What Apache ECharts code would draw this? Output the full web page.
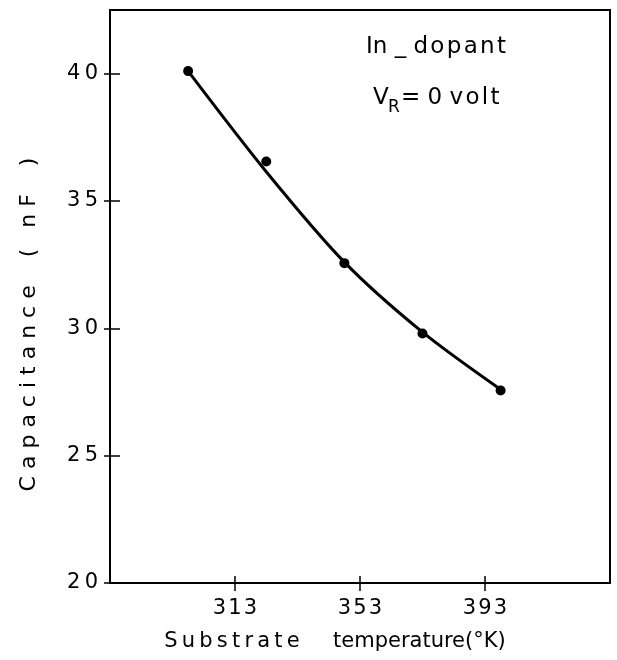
<!DOCTYPE html>
<html>
<head>
<meta charset="utf-8">
<script src="https://cdn.jsdelivr.net/npm/echarts@6/dist/echarts.min.js"></script>
<style>
  html, body { margin: 0; padding: 0; background: #fff; }
  #chart { width: 617px; height: 660px; }
</style>
</head>
<body>
<div id="chart"></div>
<script>
// Measured capacitance vs substrate temperature (In-doped, zero bias)
const temperatures = [298, 323, 348, 373, 398];
const capacitance = [40.1, 36.55, 32.56, 29.8, 27.56];
// Smooth trend curve drawn through the measurements
const curveTemps = [298, 323, 348, 373, 398];
const curveValues = [40.1, 36.15, 32.6, 29.85, 27.6];
const xTicks = [313, 353, 393];
const yTicks = [20, 25, 30, 35, 40];

const FONT = 'DejaVu Sans';
const spaced = (s, sep) => String(s).split('').join(sep || '\u200A');

const chart = echarts.init(document.getElementById('chart'));

const xBase = { type: 'value', min: 273, max: 433, interval: 40, position: 'bottom' };
const yBase = { type: 'value', min: 20, max: 42.5, interval: 5, position: 'left' };

chart.setOption({
  animation: false,
  backgroundColor: '#fff',
  grid: {
    left: 110, right: 7, top: 10, bottom: 77,
    show: true, borderColor: '#000', borderWidth: 2, backgroundColor: 'transparent'
  },
  xAxis: [
    Object.assign({}, xBase, {
      name: spaced('Substrate', '\u2009') + '     temperature(°K)',
      nameLocation: 'middle', nameGap: 48,
      nameTextStyle: { fontFamily: FONT, fontSize: 21, color: '#000', padding: [0, 50, 0, 0] },
      axisLine: { lineStyle: { color: '#000', width: 2 } },
      axisTick: { customValues: xTicks, length: 8, inside: false, lineStyle: { color: '#000', width: 1.5 } },
      axisLabel: { customValues: xTicks, formatter: v => spaced(v), fontFamily: FONT, fontSize: 21, color: '#000', margin: 15 },
      splitLine: { show: false }
    }),
    Object.assign({}, xBase, {
      axisLine: { show: false },
      axisTick: { customValues: xTicks, length: 7, inside: true, lineStyle: { color: '#000', width: 1.5 } },
      axisLabel: { show: false },
      splitLine: { show: false }
    })
  ],
  yAxis: [
    Object.assign({}, yBase, {
      name: spaced('Capacitance', ' ') + '    (   n F    )',
      nameLocation: 'middle', nameGap: 70,
      nameTextStyle: { fontFamily: FONT, fontSize: 22, color: '#000', padding: [0, 56, 0, 0] },
      axisLine: { lineStyle: { color: '#000', width: 2 } },
      axisTick: { customValues: yTicks, length: 6, inside: false, lineStyle: { color: '#000', width: 1.5 } },
      axisLabel: { customValues: yTicks, formatter: v => spaced(v, '\u2009'), fontFamily: FONT, fontSize: 21, color: '#000', margin: 12 },
      splitLine: { show: false }
    }),
    Object.assign({}, yBase, {
      axisLine: { show: false },
      axisTick: { customValues: yTicks, length: 10, inside: true, lineStyle: { color: '#000', width: 1.5 } },
      axisLabel: { show: false },
      splitLine: { show: false }
    })
  ],
  series: [
    {
      type: 'line',
      data: curveTemps.map((t, i) => [t, curveValues[i]]),
      smooth: 0.3,
      symbol: 'none',
      lineStyle: { color: '#000', width: 3 },
      z: 2
    },
    {
      type: 'scatter',
      data: temperatures.map((t, i) => [t, capacitance[i]]),
      symbol: 'circle',
      symbolSize: 10,
      itemStyle: { color: '#000', opacity: 1 },
      z: 3
    }
  ],
  graphic: [
    { type: 'text', left: 366, top: 36, style: { text: 'In _ ' + spaced('dopant'), font: '23px "DejaVu Sans"', fill: '#000' } },
    { type: 'text', left: 373, top: 87, style: { text: 'V', font: '23px "DejaVu Sans"', fill: '#000' } },
    { type: 'text', left: 388, top: 99, style: { text: 'R', font: '17px "DejaVu Sans"', fill: '#000' } },
    { type: 'text', left: 401, top: 87, style: { text: '= 0 ' + spaced('volt'), font: '23px "DejaVu Sans"', fill: '#000' } }
  ]
});
</script>
</body>
</html>
